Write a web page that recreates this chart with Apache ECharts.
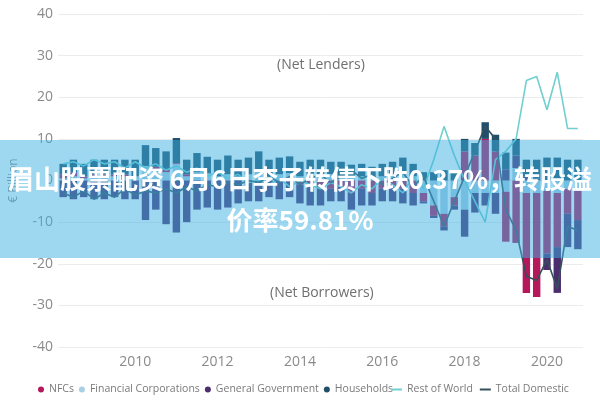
<!DOCTYPE html>
<html>
<head>
<meta charset="utf-8">
<script src="https://cdn.jsdelivr.net/npm/echarts/dist/echarts.min.js"></script>
<style>
html,body{margin:0;padding:0;background:#fff;}
#chart{width:600px;height:400px;}
</style>
</head>
<body>
<div id="chart"></div>
<script>
const categories = [
 '2008Q2','2008Q3','2008Q4',
 '2009Q1','2009Q2','2009Q3','2009Q4',
 '2010Q1','2010Q2','2010Q3','2010Q4',
 '2011Q1','2011Q2','2011Q3','2011Q4',
 '2012Q1','2012Q2','2012Q3','2012Q4',
 '2013Q1','2013Q2','2013Q3','2013Q4',
 '2014Q1','2014Q2','2014Q3','2014Q4',
 '2015Q1','2015Q2','2015Q3','2015Q4',
 '2016Q1','2016Q2','2016Q3','2016Q4',
 '2017Q1','2017Q2','2017Q3','2017Q4',
 '2018Q1','2018Q2','2018Q3','2018Q4',
 '2019Q1','2019Q2','2019Q3','2019Q4',
 '2020Q1','2020Q2','2020Q3','2020Q4'
];
const yearTicks = ['2010','2012','2014','2016','2018','2020'];

const nfcs = [
 1,1,0.5,0.5,0.5,0.5,0.5,
 0,0,0.5,0.5,0.2,0.5,0.1,0,
 0,0,0,0,0,0,0,0,
 -1,-1.5,-2,-2,-1.5,-3,-2,-3,-2,-1.5,-2,-3,
 -2,-2.5,-3,-2,
 7,6,10,7,-12,-15,-24,-25,-15,-13,-6,-7
];
const financialCorporations = [
 0.5,1,0.5,1,1,1,1,
 1,3.5,2.8,2,4,1,2,1.7,
 1,1.5,1,1.5,2,1,1.5,1.8,
 1,1.5,1.5,1.5,1,0.8,1,0.3,1,1.5,2,1,
 -3,-6,-8,-4,
 -7,-3,-3,-3,-2.7,3,-3,-3,-2.5,-3,-2,-2.5
];
const generalGovernment = [
 -4,-4.5,-4,-4.5,-4.5,-4,-4.5,
 -4.5,-9.5,-7,-10.5,-12.5,-10,-7,-6.5,
 -7,-6.5,-5.5,-5,-5,-4,-4.5,-4,
 -4.5,-4.5,-4,-3,-3.5,-4,-4,-3,-3,-3.5,-3.5,-3,
 -0.5,-0.5,-1,-1,
 -6.5,-4.7,-3,-5,2.7,3,1,0.5,-4,-11,-8,-7
];
const households = [
 2.5,3,3,3.5,3.5,3.5,3.5,
 4,5,4.5,4.5,6,3.5,4.5,4,
 4,4.5,4,4,5,4,4,4,
 3.5,3.5,3.5,3,3.5,3,3,3,3,3,3.5,3,
 2,2,2.5,2.5,
 3,3,4,4,4,4,4,4.5,5.5,5.5,5,5
];
const restOfWorld = [
 4,4.5,3.5,5,4,4.5,3,
 4.5,3,4,2.5,3.5,2,3,1,
 2,0.5,1.5,-0.5,0,-1,0.5,-1.5,
 0,-1,-2,-0.5,-1.5,-3,-1,-2,0.5,-1,-3,1,
 -2,5,13,6,
 0,-5,-10,5,7,10,24,25,17,26,12.5,12.5
];
const totalDomestic = [
 -3,-4,-2.5,-4.5,-3,-4,-2,
 -3.5,-2.5,-3,-2,-3,-1.5,-2.5,-1,
 -1.5,-0.5,-1,0,-0.5,1,-0.5,1,
 -1,0.5,1.5,-0.5,1,2.5,0.5,1.5,-1,0.5,2,-1.5,
 1,-5,-11,-5,
 1,7,13,10,-7,-12,-23,-24,-19,-26,-11,-12
];

const barNames = ['NFCs','Financial Corporations','General Government','Households'];
const lineNames = ['Rest of World','Total Domestic'];
const bannerLines = ['眉山股票配资 6月6日李子转债下跌0.37%，转股溢','价率59.81%'];

const chart = echarts.init(document.getElementById('chart'), null, {renderer:'canvas'});
const labelFont = '"Open Sans", "Noto Sans", sans-serif';

function barSeries(name, data, color){
  return {name, type:'bar', stack:'sectors', data, barWidth:'72%',
          itemStyle:{color}, emphasis:{disabled:true}};
}
function lineSeries(name, data, color){
  return {name, type:'line', data, symbol:'none', showSymbol:false,
          lineStyle:{color, width:1.6}, itemStyle:{color}, z:5, emphasis:{disabled:true}};
}

chart.setOption({
  animation:false,
  backgroundColor:'#ffffff',
  textStyle:{fontFamily:labelFont},
  grid:{left:55, right:17, top:14, bottom:53, containLabel:false},
  legend:[
    {data:barNames.map(n=>({name:n, icon:'circle'})), left:33, top:379,
     itemWidth:6, itemHeight:6, itemGap:5,
     textStyle:{fontSize:10.5, color:'#7a7a7a', fontFamily:labelFont}},
    {data:lineNames.map(n=>({name:n, icon:'rect'})), left:386, top:379,
     itemWidth:11, itemHeight:2, itemGap:7,
     textStyle:{fontSize:10.5, color:'#7a7a7a', fontFamily:labelFont}}
  ],
  xAxis:{
    type:'category', data:categories, boundaryGap:true,
    axisLine:{show:false, onZero:false}, axisTick:{show:false},
    axisLabel:{
      color:'#8a8a8a', fontSize:14, margin:8, fontFamily:labelFont,
      interval:(i, v)=> v.endsWith('Q1') && yearTicks.includes(v.slice(0,4)),
      formatter:(v)=> v.slice(0,4)
    },
    splitLine:{show:false}
  },
  yAxis:{
    type:'value', min:-40, max:40, interval:10,
    name:'€ Billion', nameLocation:'middle', nameGap:38, nameRotate:90,
    nameTextStyle:{color:'#8a8a8a', fontSize:12, fontFamily:labelFont},
    axisLine:{show:false}, axisTick:{show:false},
    axisLabel:{color:'#8a8a8a', fontSize:14, margin:5, fontFamily:labelFont},
    splitLine:{lineStyle:{color:'#ececec', width:1}}
  },
  series:[
    barSeries('Financial Corporations', financialCorporations, '#a9cfe4'),
    barSeries('NFCs', nfcs, '#b5175a'),
    barSeries('General Government', generalGovernment, '#4b2d6e'),
    barSeries('Households', households, '#1f4f6b'),
    lineSeries('Rest of World', restOfWorld, '#6fd0cf'),
    lineSeries('Total Domestic', totalDomestic, '#34505c')
  ],
  graphic:[
    {type:'text', left:277, top:58, z:10,
     style:{text:'(Net Lenders)', fill:'#6f6f6f', font:'14px "Open Sans", sans-serif'}},
    {type:'text', left:270, top:286, z:10,
     style:{text:'(Net Borrowers)', fill:'#6f6f6f', font:'14px "Open Sans", sans-serif'}},
    {type:'rect', left:0, top:140, z:50, silent:true,
     shape:{width:600, height:118}, style:{fill:'rgba(60,175,225,0.5)'}},
    {type:'text', z:51, silent:true, x:300, y:200,
     style:{text:bannerLines.join('\n'), fill:'#ffffff', align:'center', verticalAlign:'middle',
            lineHeight:41, font:'bold 26px "Noto Sans CJK SC", sans-serif'}}
  ]
});
</script>
</body>
</html>
